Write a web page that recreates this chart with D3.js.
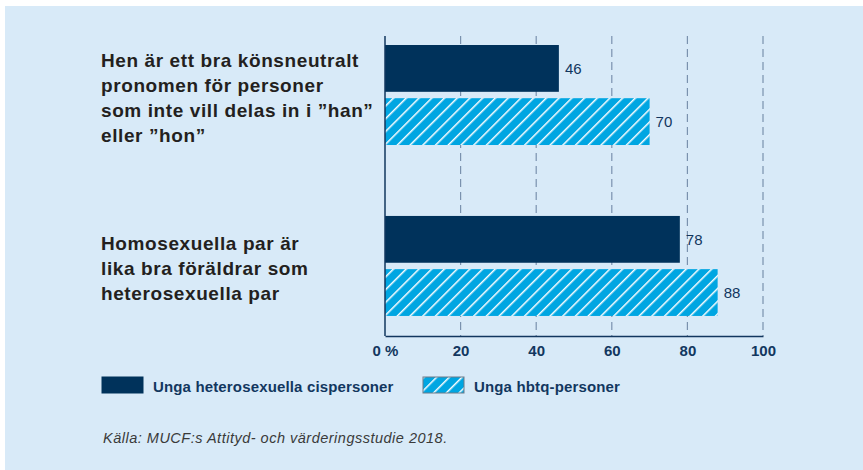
<!DOCTYPE html>
<html>
<head>
<meta charset="utf-8">
<script src="https://cdn.jsdelivr.net/npm/d3@7"></script>
<style>
  html, body { margin: 0; padding: 0; background: #fff; }
  svg { display: block; font-family: "Liberation Sans", Arial, Helvetica, sans-serif; }
</style>
</head>
<body>
<svg id="chart" width="863" height="470"></svg>
<script>
// data
var categories = [
  ["Hen är ett bra könsneutralt", "pronomen för personer", "som inte vill delas in i \u201dhan\u201d", "eller \u201dhon\u201d"],
  ["Homosexuella par är", "lika bra föräldrar som", "heterosexuella par"]
];
var seriesNames = ["Unga heterosexuella cispersoner", "Unga hbtq-personer"];
var heteroValues = [46, 78];
var hbtqValues = [70, 88];
var xTicks = [0, 20, 40, 60, 80, 100];
var sourceText = "Källa: MUCF:s Attityd- och värderingsstudie 2018.";

var navy = "#00325b", cyan = "#00a6e2", textNavy = "#12375f";

var svg = d3.select("#chart");

// background panel
svg.append("rect").attr("x", 5).attr("y", 6).attr("width", 858).attr("height", 464).attr("fill", "#d8eaf8");

// hatch pattern
var defs = svg.append("defs");
var pat = defs.append("pattern")
  .attr("id", "hatch")
  .attr("patternUnits", "userSpaceOnUse")
  .attr("width", 9).attr("height", 9)
  .attr("patternTransform", "rotate(45)");
pat.append("rect").attr("width", 9).attr("height", 9).attr("fill", cyan);
pat.append("line").attr("x1", 0).attr("y1", 0).attr("x2", 0).attr("y2", 9)
  .attr("stroke", "#fff").attr("stroke-width", 3);

var x = d3.scaleLinear().domain([0, 100]).range([385, 763]);
var catIdx = d3.range(categories.length);
var y = d3.scaleBand().domain(catIdx).range([36, 336])
  .paddingInner(0.415).paddingOuter(0.085).align(0.31);
var ySeries = d3.scaleBand().domain([0, 1]).range([0, y.bandwidth()]).paddingInner(0.12);

// dashed grid
svg.append("g").selectAll("line")
  .data(xTicks.slice(1))
  .join("line")
  .attr("x1", function(d) { return x(d); })
  .attr("x2", function(d) { return x(d); })
  .attr("y1", 36).attr("y2", 336)
  .attr("stroke", "#7a92ae").attr("stroke-width", 1.2)
  .attr("stroke-dasharray", "8,5");

// bars
var rows = catIdx.map(function(i) {
  return [{ c: i, s: 0, v: heteroValues[i] }, { c: i, s: 1, v: hbtqValues[i] }];
});
var bars = svg.append("g").selectAll("g")
  .data(rows)
  .join("g")
  .attr("transform", function(d, i) { return "translate(0," + y(i) + ")"; });

bars.selectAll("rect")
  .data(function(d) { return d; })
  .join("rect")
  .attr("x", x(0))
  .attr("y", function(d) { return ySeries(d.s); })
  .attr("width", function(d) { return x(d.v) - x(0); })
  .attr("height", ySeries.bandwidth())
  .attr("fill", function(d) { return d.s === 0 ? navy : "url(#hatch)"; });

bars.selectAll("text")
  .data(function(d) { return d; })
  .join("text")
  .attr("x", function(d) { return x(d.v) + 6; })
  .attr("y", function(d) { return ySeries(d.s) + ySeries.bandwidth() / 2; })
  .attr("dy", "0.35em")
  .attr("font-size", 15)
  .attr("fill", textNavy)
  .text(function(d) { return d.v; });

// axis
var axis = d3.axisBottom(x).tickValues(xTicks).tickSize(0).tickPadding(9)
  .tickFormat(function(d) { return d === 0 ? "0 %" : d; });
var ax = svg.append("g").attr("transform", "translate(0,336)").call(axis);
ax.select(".domain").attr("stroke", textNavy).attr("stroke-width", 1.5);
ax.selectAll("text").attr("font-size", 15).attr("font-weight", "bold")
  .attr("fill", textNavy).attr("font-family", "Liberation Sans, Arial, sans-serif");

// left axis line
svg.append("line").attr("x1", x(0)).attr("x2", x(0)).attr("y1", 36).attr("y2", 336)
  .attr("stroke", textNavy).attr("stroke-width", 1.5);

// category labels
var lineH = 25;
svg.append("g").selectAll("text")
  .data(categories)
  .join("text")
  .attr("font-size", 19)
  .attr("letter-spacing", 0.6)
  .attr("font-weight", "bold")
  .attr("fill", "#231f20")
  .each(function(lines, i) {
    var top = i === 0 ? 67 : 250;
    d3.select(this).selectAll("tspan")
      .data(lines)
      .join("tspan")
      .attr("x", 101)
      .attr("y", function(d, j) { return top + j * lineH; })
      .text(function(d) { return d; });
  });

// legend
var legX = [102, 423];
var leg = svg.append("g").selectAll("g")
  .data(seriesNames)
  .join("g")
  .attr("transform", function(d, i) { return "translate(" + legX[i] + ",377)"; });
leg.append("rect")
  .attr("width", 41).attr("height", 16)
  .attr("fill", function(d, i) { return i === 0 ? navy : "url(#hatch)"; })
  .attr("stroke", function(d, i) { return i === 0 ? navy : "#6c7a88"; })
  .attr("stroke-width", 1);
leg.append("text")
  .attr("x", 51).attr("y", 15)
  .attr("font-size", 15).attr("letter-spacing", 0.15).attr("font-weight", "bold")
  .attr("fill", textNavy)
  .text(function(d) { return d; });

// source
svg.append("text")
  .attr("x", 103).attr("y", 443)
  .attr("font-size", 14.5).attr("letter-spacing", 0.5).attr("font-style", "italic")
  .attr("fill", "#3a3a3a")
  .text(sourceText);
</script>
</body>
</html>
